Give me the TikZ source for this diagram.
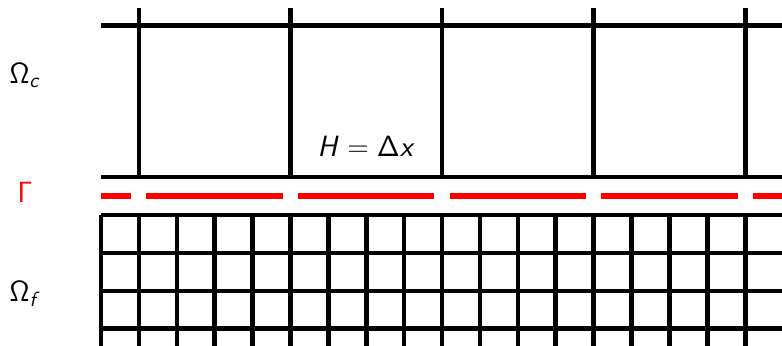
\RequirePackage{fix-cm}
\documentclass[tikz,border=0pt]{standalone}
\usepackage{amsmath}
\DeclareMathAlphabet{\mathsfup}{OT1}{cmss}{m}{n}
\DeclareMathAlphabet{\mathsfit}{OT1}{cmss}{m}{sl}

\begin{document}
\begin{tikzpicture}[
    gridline/.style={line width=3.4pt},
    interface/.style={red, line width=4pt, dash pattern=on 3.6cm off 0.4cm, dash phase=2.8cm},
    lbl/.style={anchor=base, inner sep=0pt, font=\fontsize{22}{26}\selectfont}
]
    \useasboundingbox (-2.665,-3.456) rectangle (17.97,5.673);
    \clip (-2.665,-3.456) rectangle (17.97,5.673);

    % coarse mesh
    \draw[gridline] (0,1) -- (18.5,1);
    \draw[gridline] (0,5) -- (18.5,5);
    \foreach \x in {1,5,9,13,17} {
        \draw[gridline] (\x,1) -- (\x,5.46);
    }

    % interface
    \draw[interface] (0,0.5) -- (18.5,0.5);

    % fine mesh
    \foreach \y in {0,-1,-2,-3} {
        \draw[gridline] (0,\y) -- (18.5,\y);
    }
    \foreach \x in {0,...,17} {
        \draw[gridline] (\x,0) -- (\x,-3.6);
    }

    \node[lbl] (omegac) at (-2,3.47) {$\mathsfup{\Omega}_{\mathsfit{c}}$};
    \node[lbl, text=red] (gamma) at (-2,0.32) {$\mathsfup{\Gamma}$};
    \node[lbl] (omegaf) at (-2,-2.29) {$\mathsfup{\Omega}_{\mathsfit{f}}$};
    \node[lbl] (hsize) at (7,1.54) {$\mathsfit{H} = \mathsfup{\Delta}\mathsfit{x}$};
\end{tikzpicture}
\end{document}
